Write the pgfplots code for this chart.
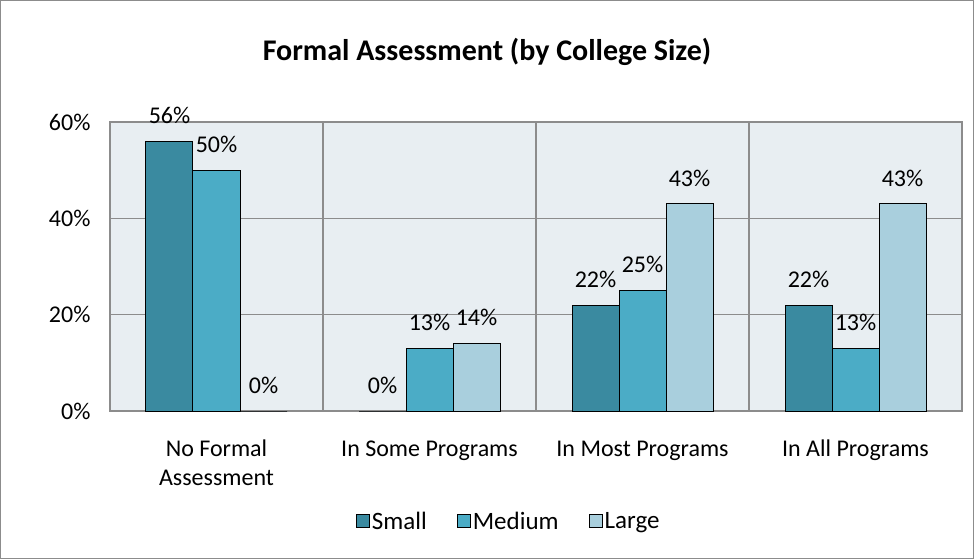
\documentclass[border=0pt]{standalone}
\usepackage{pgfplots}
\pgfplotsset{compat=1.18}
\usepackage{fontspec}
\setmainfont{Carlito}
\definecolor{csmall}{HTML}{3A8AA0}
\definecolor{cmed}{HTML}{4BACC6}
\definecolor{clarge}{HTML}{A9CFDD}
\definecolor{cbg}{HTML}{E8EEF2}
\definecolor{cgrid}{HTML}{8C8C8C}
\begin{document}
\begin{tikzpicture}
\begin{axis}[
  name=ax,
  scale only axis,
  width=852pt, height=289pt,
  ybar=0pt, bar width=47pt,
  xmin=-0.5, xmax=3.5,
  ymin=0, ymax=60,
  xtick={0,1,2,3},
  xticklabels={\strut No Formal\\\strut Assessment, \strut In Some Programs, \strut In Most Programs, \strut In All Programs},
  xticklabel style={align=center, font=\fontsize{24}{29}\selectfont, anchor=north},
  ytick={0,20,40,60},
  yticklabel={\pgfmathprintnumber{\tick}\%},
  yticklabel style={font=\fontsize{24}{29}\selectfont},
  /pgf/number format/assume math mode=true,
  minor xtick={0.5,1.5,2.5},
  xminorgrids, ymajorgrids,
  grid style={cgrid, line width=1.2pt},
  minor grid style={cgrid, line width=1.2pt},
  major tick length=0pt, minor tick length=0pt,
  axis line style={cgrid, line width=1.2pt},
  axis background/.style={fill=cbg},
  x tick label style={yshift=-22pt},
  y tick label style={xshift=-16pt},
  every axis plot/.append style={draw=black, line width=1pt},
  nodes near coords={\pgfmathprintnumber{\pgfplotspointmeta}\%},
  point meta=y,
  nodes near coords style={font=\fontsize{24}{29}\selectfont, anchor=south, inner sep=1pt, yshift=16pt, color=black},
  legend style={at={(0.468,-0.381)}, anchor=center, draw=none, fill=none, legend columns=3,
    font=\fontsize{25}{30}\selectfont,
    /tikz/every even column/.append style={column sep=28pt}},
  legend image code/.code={\draw[#1, draw=black, line width=1pt] (0pt,-6pt) rectangle (13pt,7pt);},
]
\addplot[fill=csmall] coordinates {(0,56) (1,0) (2,22) (3,22)};
\addplot[fill=cmed] coordinates {(0,50) (1,13) (2,25) (3,13)};
\addplot[fill=clarge] coordinates {(0,0) (1,14) (2,43) (3,43)};
\legend{Small, Medium, Large}
\end{axis}
\draw[cgrid, line width=1pt] (-109.5pt,-147.5pt) rectangle (863.5pt,410.5pt);
\node[font=\bfseries\fontsize{30}{36}\selectfont] at (377pt,359pt) {Formal Assessment (by College Size)};
\end{tikzpicture}
\end{document}
